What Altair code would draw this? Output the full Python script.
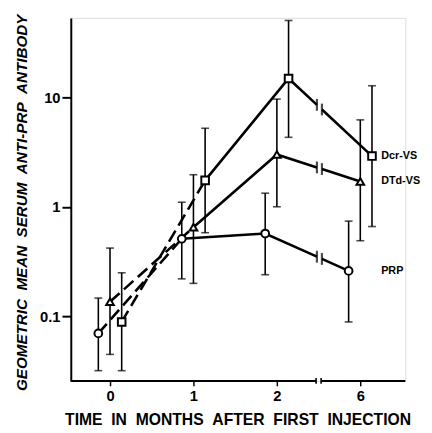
import math
import altair as alt
import pandas as pd

# ---- data ----
series = ["Dcr-VS", "DTd-VS", "PRP"]
time_labels = ["0", "1", "2", "6"]          # months; axis has a break between 2 and 6
time_index = [0, 1, 2, 3]                    # positions on the broken axis

dcr_mean = [0.089, 1.74, 14.8, 2.9]
dcr_lo = [0.032, 0.58, 4.3, 0.66]
dcr_hi = [0.25, 5.2, 50.0, 12.7]

dtd_mean = [0.136, 0.65, 3.0, 1.7]
dtd_lo = [0.045, 0.20, 1.0, 0.49]
dtd_hi = [0.42, 1.96, 9.6, 6.2]

prp_mean = [0.070, 0.51, 0.57, 0.26]
prp_lo = [0.032, 0.22, 0.24, 0.089]
prp_hi = [0.147, 1.10, 1.33, 0.74]

# ---- styling ----
offsets = {"Dcr-VS": 0.14, "DTd-VS": 0.0, "PRP": -0.14}
shapes = {"Dcr-VS": "square", "DTd-VS": "triangle-up", "PRP": "circle"}
sizes = {"Dcr-VS": 60, "DTd-VS": 62, "PRP": 50}
break_a, break_b = 2.48, 2.54
axis_break_a, axis_break_b = 2.47, 2.53
xdom = [-0.47, 3.54]
ydom = [0.0258, 52.8]
W, H = 341, 370
FONT = "Liberation Sans"
SP = "\u00a0\u00a0"

means = {"Dcr-VS": dcr_mean, "DTd-VS": dtd_mean, "PRP": prp_mean}
los = {"Dcr-VS": dcr_lo, "DTd-VS": dtd_lo, "PRP": prp_lo}
his = {"Dcr-VS": dcr_hi, "DTd-VS": dtd_hi, "PRP": prp_hi}

pts, lines, brk = [], [], []
for s in series:
    xs = [t + offsets[s] for t in time_index]
    ys = means[s]
    for i in range(4):
        pts.append({"s": s, "x": xs[i], "y": ys[i], "lo": los[s][i], "hi": his[s][i], "shape": shapes[s]})

    def at(xb):
        t = (xb - xs[2]) / (xs[3] - xs[2])
        return 10 ** (math.log10(ys[2]) + t * (math.log10(ys[3]) - math.log10(ys[2])))

    ya, yb = at(break_a), at(break_b)
    segs = [
        ("d", [(xs[0], ys[0]), (xs[1], ys[1])]),
        ("a", [(xs[1], ys[1]), (xs[2], ys[2]), (break_a, ya)]),
        ("b", [(break_b, yb), (xs[3], ys[3])]),
    ]
    for name, seg in segs:
        for k, (x, y) in enumerate(seg):
            lines.append({"s": s, "seg": s + name, "dash": name == "d", "x": x, "y": y, "o": k})
    brk.append({"x": break_a, "y": ya})
    brk.append({"x": break_b, "y": yb})

pdf = pd.DataFrame(pts)
ldf = pd.DataFrame(lines)
bdf = pd.DataFrame(brk)
lab = pd.DataFrame({"s": series, "x": [3.25] * 3, "y": [m[3] for m in (dcr_mean, dtd_mean, prp_mean)]})

xscale = alt.Scale(domain=xdom, nice=False, zero=False)
yscale = alt.Scale(type="log", domain=ydom, nice=False)

xaxis = alt.Axis(
    values=time_index, labelExpr="datum.value == 3 ? '6' : format(datum.value, 'd')",
    domain=False, grid=False, tickSize=5, tickWidth=1.5, tickColor="black",
    labelFont=FONT, labelFontSize=15, labelFontWeight="bold", labelColor="black", labelPadding=3,
    title=SP.join(["TIME", "IN", "MONTHS", "AFTER", "FIRST", "INJECTION"]), titleFont=FONT, titleFontSize=16,
    titleFontWeight="bold", titleColor="black", titleX=170, titleY=39,
    titleBaseline="middle", titleAlign="center")
yaxis = alt.Axis(
    values=[0.1, 1, 10], labelExpr="datum.value < 1 ? '0.1' : format(datum.value, 'd')",
    domain=True, domainColor="black", domainWidth=2, grid=False, tickSize=9, tickWidth=2,
    tickColor="black", labelFont=FONT, labelFontSize=15, labelFontWeight="bold",
    labelColor="black", labelPadding=2,
    title=SP.join(["GEOMETRIC", "MEAN", "SERUM", "ANTI-PRP", "ANTIBODY"]), titleFont=FONT, titleFontSize=15.5,
    titleFontStyle="italic", titleFontWeight="bold", titleColor="black",
    titleX=-50, titleY=188, titleAngle=270, titleBaseline="middle", titleAlign="center")


def X(f="x:Q"):
    return alt.X(f, scale=xscale, axis=xaxis)


def Y(f="y:Q"):
    return alt.Y(f, scale=yscale, axis=yaxis)


base = alt.Chart(pdf)

err = base.mark_rule(color="black", strokeWidth=1.6).encode(x=X(), y=Y("lo:Q"), y2="hi:Q")
cap_lo = base.mark_point(shape="M-1,0L1,0", size=64, color="black", strokeWidth=1.6, filled=False).encode(
    x=X(), y=Y("lo:Q"))
cap_hi = base.mark_point(shape="M-1,0L1,0", size=64, color="black", strokeWidth=1.6, filled=False).encode(
    x=X(), y=Y("hi:Q"))

solid = alt.Chart(ldf).transform_filter("!datum.dash").mark_line(
    color="black", strokeWidth=2.6).encode(x=X(), y=Y(), detail="seg:N", order="o:Q")
dashed = alt.Chart(ldf).transform_filter("datum.dash").mark_line(
    color="black", strokeWidth=2.6, strokeDash=[13, 6]).encode(x=X(), y=Y(), detail="seg:N", order="o:Q")

brk_marks = alt.Chart(bdf).mark_point(shape="M0,-1L0,1", size=144, color="black",
                                      strokeWidth=2.2, filled=False).encode(x=X(), y=Y())

markers = base.mark_point(filled=True, fill="white", stroke="black", strokeWidth=2, opacity=1).encode(
    x=X(), y=Y(),
    shape=alt.Shape("shape:N", scale=None),
    size=alt.Size("s:N", scale=alt.Scale(domain=series, range=[sizes[s] for s in series]), legend=None))

labels = alt.Chart(lab).mark_text(align="left", baseline="middle", font=FONT, fontSize=11,
                                  fontWeight="bold", color="black").encode(x=X(), y=Y(), text="s:N")

axdf = pd.DataFrame({"x": [xdom[0], axis_break_b], "x2": [axis_break_a, xdom[1]]})
xaxis_line = alt.Chart(axdf).mark_rule(color="black", strokeWidth=2).encode(
    x=X(), x2="x2:Q", y=alt.value(H))
axbdf = pd.DataFrame({"x": [axis_break_a, axis_break_b]})
xaxis_brk = alt.Chart(axbdf).mark_rule(color="black", strokeWidth=1.6).encode(
    x=X(), y=alt.value(H - 3), y2=alt.value(H + 3))

chart = alt.layer(err, cap_lo, cap_hi, dashed, solid, brk_marks, markers, labels, xaxis_line, xaxis_brk).properties(
    width=W, height=H,
    autosize=alt.AutoSizeParams(type="none"),
    padding={"left": 64, "top": 6, "right": 19, "bottom": 49},
).configure_view(stroke=None).configure(background="white")

chart.save("out.html", embed_options={"renderer": "svg", "actions": False})
